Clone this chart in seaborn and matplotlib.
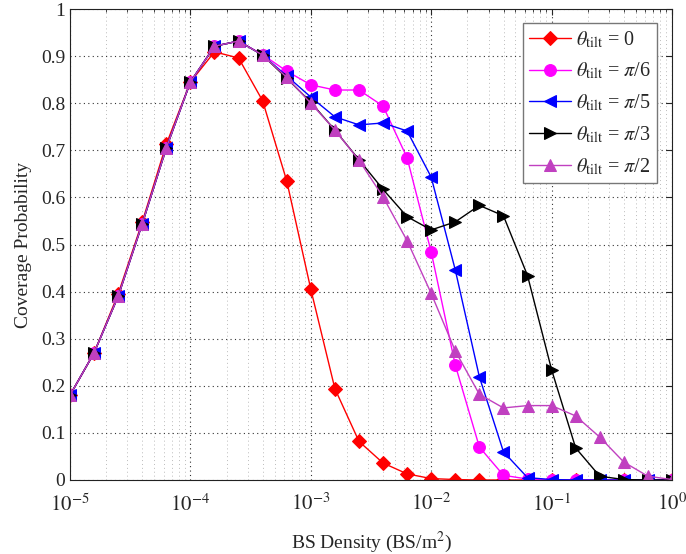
import numpy as np
import pandas as pd
import matplotlib
matplotlib.use("Agg")
import matplotlib.pyplot as plt
import seaborn as sns
from matplotlib.ticker import FixedLocator, LogLocator, NullFormatter, FuncFormatter

density = [10 ** (-5 + 0.2 * k) for k in range(26)]

cov_0 = [0.18, 0.27, 0.395, 0.548, 0.713, 0.845, 0.909, 0.896, 0.805, 0.635,
         0.405, 0.194, 0.082, 0.036, 0.013, 0.003, 0.001, 0.0, 0.0, 0.0,
         0.0, 0.0, 0.0, 0.0, 0.0, 0.0]
cov_pi6 = [0.18, 0.27, 0.39, 0.544, 0.705, 0.845, 0.921, 0.932, 0.903, 0.868,
           0.839, 0.828, 0.828, 0.794, 0.684, 0.484, 0.244, 0.070, 0.010, 0.002,
           0.0, 0.0, 0.0, 0.0, 0.0, 0.0]
cov_pi5 = [0.18, 0.27, 0.39, 0.544, 0.705, 0.845, 0.921, 0.932, 0.902, 0.858,
           0.813, 0.771, 0.754, 0.758, 0.741, 0.643, 0.446, 0.219, 0.060, 0.005,
           0.001, 0.0, 0.0, 0.0, 0.0, 0.0]
cov_pi3 = [0.18, 0.27, 0.39, 0.544, 0.705, 0.845, 0.921, 0.932, 0.902, 0.853,
           0.802, 0.743, 0.680, 0.617, 0.559, 0.531, 0.548, 0.583, 0.561, 0.434,
           0.234, 0.068, 0.008, 0.001, 0.0, 0.0]
cov_pi2 = [0.18, 0.27, 0.39, 0.544, 0.705, 0.845, 0.921, 0.932, 0.902, 0.855,
           0.800, 0.743, 0.679, 0.601, 0.508, 0.396, 0.274, 0.182, 0.153, 0.158,
           0.158, 0.136, 0.091, 0.038, 0.008, 0.001]

labels = [r"$\theta_{\mathrm{tilt}}$ = 0",
          r"$\theta_{\mathrm{tilt}}$ = $\pi$/6",
          r"$\theta_{\mathrm{tilt}}$ = $\pi$/5",
          r"$\theta_{\mathrm{tilt}}$ = $\pi$/3",
          r"$\theta_{\mathrm{tilt}}$ = $\pi$/2"]
series = [cov_0, cov_pi6, cov_pi5, cov_pi3, cov_pi2]
colors = ["#ff0000", "#ff00ff", "#0000ff", "#000000", "#c040c0"]
markers = ["D", "o", "<", ">", "^"]
msizes = [7, 8.5, 9, 9, 9]

sns.set_style("white")
plt.rcParams["font.family"] = ["Liberation Serif", "DejaVu Serif"]
plt.rcParams["mathtext.fontset"] = "stix"

fig = plt.figure(figsize=(6.86, 5.54), dpi=100)
ax = fig.add_axes([70 / 686, 1 - 480 / 554, 602 / 686, 471 / 554])

for lab, ys, c, m, ms in zip(labels, series, colors, markers, msizes):
    df = pd.DataFrame({"x": density, "y": ys})
    sns.lineplot(data=df, x="x", y="y", ax=ax, color=c, marker=m,
                 markersize=ms, markeredgecolor=c, markerfacecolor=c,
                 linewidth=1.0, label=lab)

ax.set_xscale("log")
ax.set_xlim(1e-5, 1)
ax.set_ylim(0, 1)
ax.yaxis.set_major_locator(FixedLocator(np.arange(0, 1.01, 0.1)))
ax.yaxis.set_major_formatter(FuncFormatter(lambda v, p: f"{v:g}"))
ax.xaxis.set_major_locator(LogLocator(base=10, numticks=10))
ax.xaxis.set_major_formatter(FuncFormatter(lambda v, p: r"$10^{%d}$" % round(np.log10(v))))
ax.xaxis.set_minor_locator(LogLocator(base=10, subs=np.arange(2, 10), numticks=10))
ax.xaxis.set_minor_formatter(NullFormatter())

ax.grid(True, which="major", linestyle=(0, (1, 3)), color="#333333", linewidth=0.8)
ax.grid(True, which="minor", axis="x", linestyle=(0, (1, 3)), color="#bbbbbb", linewidth=0.7)
ax.tick_params(which="both", direction="in", top=True, right=True, labelsize=14)
ax.tick_params(axis="x", which="major", pad=10, labelsize=15)
ax.tick_params(which="major", length=4)
ax.tick_params(which="minor", length=2)
for s in ax.spines.values():
    s.set_color("#222222")
    s.set_linewidth(0.8)

ax.set_xlabel(r"BS Density (BS/m$^2$)", fontsize=14, labelpad=10)
ax.set_ylabel("Coverage Probability", fontsize=14, labelpad=6)

leg = ax.legend(loc="upper right", bbox_to_anchor=(0.975, 0.970), borderaxespad=0,
                fontsize=14.5, frameon=True, fancybox=False,
                edgecolor="#777777", framealpha=1, handlelength=2.1,
                labelspacing=0.55, handletextpad=0.25, borderpad=0.3)
leg.get_frame().set_linewidth(1.0)

fig.savefig("out.png", dpi=100)
